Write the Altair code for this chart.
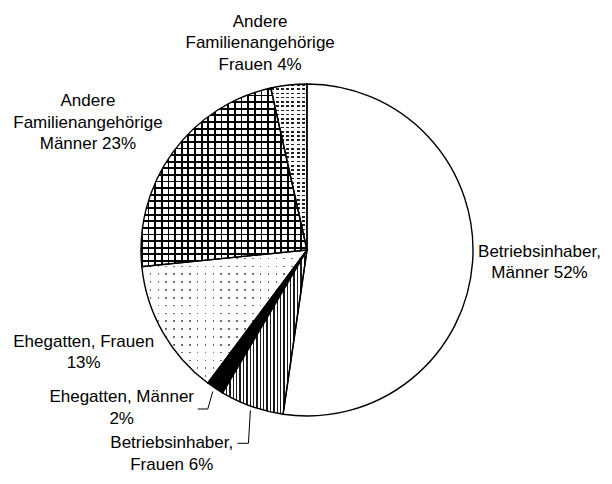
import math
import altair as alt
import pandas as pd

# ---------------- data ----------------
keys = ["bim", "bif", "em", "ef", "am", "af"]
categories = [
    "Betriebsinhaber, Männer",
    "Betriebsinhaber, Frauen",
    "Ehegatten, Männer",
    "Ehegatten, Frauen",
    "Andere Familienangehörige, Männer",
    "Andere Familienangehörige, Frauen",
]
shares = [52.3, 6.2, 1.7, 13.2, 23.1, 3.5]
labels = [
    "Betriebsinhaber,\nMänner 52%",
    "Betriebsinhaber,\nFrauen 6%",
    "Ehegatten, Männer\n2%",
    "Ehegatten, Frauen\n13%",
    "Andere\nFamilienangehörige\nMänner 23%",
    "Andere\nFamilienangehörige\nFrauen 4%",
]

df = pd.DataFrame({"key": keys, "cat": categories, "value": shares, "label": labels})
df["end"] = df["value"].cumsum()
df["start"] = df["end"] - df["value"]
df["mid"] = (df["start"] + df["end"]) / 2

# ---------------- geometry / style ----------------
W, H = 596, 468
CX, CY, R = 299, 242, 166
FONT = "Liberation Sans"
LH = 21.5

theta_scale = alt.Scale(domain=[0, 100], range=[0, 2 * math.pi])


def arc_bbox(s, e):
    a0, a1 = s / 100 * 2 * math.pi, e / 100 * 2 * math.pi
    angs = [a0, a1] + [c for c in (0, math.pi / 2, math.pi, 1.5 * math.pi, 2 * math.pi) if a0 < c < a1]
    xs = [0.0] + [R * math.sin(a) for a in angs]
    ys = [0.0] + [-R * math.cos(a) for a in angs]
    return max(xs) - min(xs), max(ys) - min(ys)


def stripes(size_px, period_px, mark_px, mark_col, rest_col, axis):
    n = max(1, round(size_px / period_px))
    f = min(0.95, mark_px * n / size_px)
    stops = []
    for k in range(n):
        a, b, c = k / n, (k + f) / n, (k + 1) / n
        stops += [
            {"offset": round(a, 5), "color": mark_col},
            {"offset": round(b, 5), "color": mark_col},
            {"offset": round(b, 5), "color": rest_col},
            {"offset": round(c, 5), "color": rest_col},
        ]
    x2, y2 = (1, 0) if axis == "x" else (0, 1)
    return {"gradient": "linear", "x1": 0, "y1": 0, "x2": x2, "y2": y2, "stops": stops}


CLEAR = "rgba(255,255,255,0)"
bb = {k: arc_bbox(s, e) for k, s, e in zip(df["key"], df["start"], df["end"])}

overlay_specs = [
    # vertical lines
    ("bif", stripes(bb["bif"][0], 3.4, 1.4, "#1a1a1a", CLEAR, "x")),
    # cross hatch
    ("am", stripes(bb["am"][1], 6.6, 1.8, "#000000", CLEAR, "y")),
    ("am", stripes(bb["am"][0], 6.6, 1.8, "#000000", CLEAR, "x")),
    # sparse dots (masks over grey base)
    ("ef", stripes(bb["ef"][1], 7.7, 1.6, CLEAR, "#ffffff", "y")),
    ("ef", stripes(bb["ef"][0], 7.7, 1.6, CLEAR, "#ffffff", "x")),
    # dense dashes (masks over dark base)
    ("af", stripes(bb["af"][1], 4.3, 1.7, CLEAR, "#ffffff", "y")),
    ("af", stripes(bb["af"][0], 5.2, 3.0, CLEAR, "#ffffff", "x")),
]
base_colors = ["#ffffff", "#ffffff", "#000000", "#6e6e6e", "#ffffff", "#222222"]

pos = dict(x=alt.value(CX), y=alt.value(CY))
theta_enc = dict(
    theta=alt.Theta("start:Q", scale=theta_scale, stack=None),
    theta2=alt.Theta2("end:Q"),
)

base = alt.Chart().mark_arc(radius=R, strokeWidth=0).encode(
    color=alt.Color("key:N", scale=alt.Scale(domain=keys, range=base_colors), legend=None),
    **theta_enc, **pos,
)

overlays = [
    alt.Chart().transform_filter(alt.datum.key == k)
    .mark_arc(radius=R, fill=g, strokeWidth=0)
    .encode(**theta_enc, **pos)
    for k, g in overlay_specs
]

outline = alt.Chart().mark_arc(
    radius=R, fill="#ffffff", fillOpacity=0, stroke="#000000", strokeWidth=1.4
).encode(**theta_enc, **pos)

# label offsets (pixels) of the first text line from a point just outside the slice's middle
label_offsets = {
    "bim": (43, -1 - LH / 2),
    "bif": (-72, 14),
    "em": (-80, -LH / 2),
    "ef": (-58, 9 - LH / 2),
    "am": (-65, -16 - LH),
    "af": (-26, -18 - LH),
}
texts = [
    alt.Chart().transform_filter(alt.datum.key == k)
    .mark_text(
        radius=190, dx=dx, dy=dy, align="center", baseline="middle",
        lineBreak="\n", font=FONT, fontSize=17, lineHeight=LH, color="#000000",
    )
    .encode(theta=alt.Theta("mid:Q", scale=theta_scale, stack=None), text="label:N", **pos)
    for k, (dx, dy) in label_offsets.items()
]

# leader lines: start just outside the slice middle, then elbow, then horizontal
leader_specs = {"em": (170, -5, 17.5, -10), "bif": (170, -2, 33, -11)}
leaders = []
for k, (rr, ex, ey, hx) in leader_specs.items():
    src = (
        alt.Chart()
        .transform_filter(alt.datum.key == k)
        .transform_calculate(
            ax=f"{CX} + {rr} * sin(datum.mid / 100 * 2 * PI)",
            ay=f"{CY} - {rr} * cos(datum.mid / 100 * 2 * PI)",
        )
        .transform_calculate(bx=f"datum.ax + ({ex})", by=f"datum.ay + ({ey})")
        .transform_calculate(cx2=f"datum.bx + ({hx})")
    )
    leaders.append(
        src.mark_rule(color="#000000", strokeWidth=1).encode(
            x=alt.X("ax:Q", scale=None), y=alt.Y("ay:Q", scale=None),
            x2="bx:Q", y2="by:Q",
        )
    )
    leaders.append(
        src.mark_rule(color="#000000", strokeWidth=1).encode(
            x=alt.X("bx:Q", scale=None), y=alt.Y("by:Q", scale=None),
            x2="cx2:Q", y2="by:Q",
        )
    )

chart = alt.layer(base, *overlays, outline, *leaders, *texts, data=df).properties(
    width=W, height=H, padding=0, autosize="none"
).configure_view(stroke=None)

chart.save("out.html", embed_options={"renderer": "svg", "actions": False})
